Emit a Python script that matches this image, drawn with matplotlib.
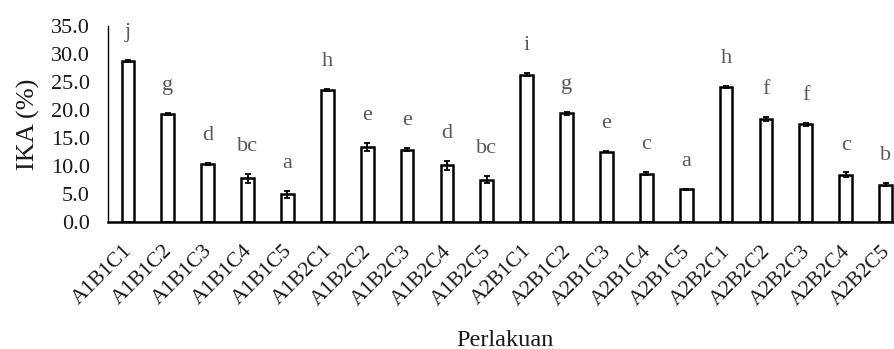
import numpy as np
import matplotlib
matplotlib.use("Agg")
import matplotlib.pyplot as plt
from matplotlib.transforms import ScaledTranslation, blended_transform_factory

plt.rcParams['font.family'] = ['Liberation Serif', 'DejaVu Serif']

perlakuan = ['A1B1C1', 'A1B1C2', 'A1B1C3', 'A1B1C4', 'A1B1C5',
             'A1B2C1', 'A1B2C2', 'A1B2C3', 'A1B2C4', 'A1B2C5',
             'A2B1C1', 'A2B1C2', 'A2B1C3', 'A2B1C4', 'A2B1C5',
             'A2B2C1', 'A2B2C2', 'A2B2C3', 'A2B2C4', 'A2B2C5']
ika = [28.8, 19.2, 10.3, 7.8, 4.9,
       23.5, 13.3, 12.9, 10.1, 7.5,
       26.3, 19.4, 12.5, 8.6, 5.8,
       24.1, 18.4, 17.4, 8.4, 6.6]
err = [0.2, 0.2, 0.2, 0.8, 0.6,
       0.2, 0.7, 0.3, 0.8, 0.6,
       0.3, 0.3, 0.1, 0.3, 0.1,
       0.1, 0.4, 0.2, 0.4, 0.3]
notasi = ['j', 'g', 'd', 'bc', 'a', 'h', 'e', 'e', 'd', 'bc',
          'i', 'g', 'e', 'c', 'a', 'h', 'f', 'f', 'c', 'b']

fig = plt.figure(figsize=(8.95, 3.49), dpi=100)
ax = fig.add_axes([0.1207, 0.3648, 0.891, 0.5607])

x = np.arange(len(perlakuan))
ax.bar(x, ika, width=0.32, color='white', edgecolor='black', linewidth=1.8,
       yerr=err, error_kw=dict(ecolor='black', elinewidth=1.3, capsize=2, capthick=1.3))

# huruf notasi di atas batang
for i in range(len(x)):
    ax.text(x[i], ika[i] + err[i] + 4.1, notasi[i], ha='center', va='baseline',
            fontsize=16, color='#595959')

ax.set_xlim(-0.5, len(x) - 0.5)
ax.set_ylim(0, 35)
ax.set_yticks(np.arange(0, 35.1, 5))
ax.set_yticklabels(['%.1f' % v for v in np.arange(0, 35.1, 5)], fontsize=16, color='#1a1a1a')
ax.set_xticks(x)
ax.set_xticklabels([])
ax.tick_params(axis='y', length=0, pad=13)
ax.tick_params(axis='x', length=0)

# label perlakuan miring, digeser sedikit ke kiri
trans = blended_transform_factory(ax.transData, ax.transAxes) + \
    ScaledTranslation(-5 / 100, -20 / 100, fig.dpi_scale_trans)
for i in range(len(x)):
    ax.text(x[i], 0, perlakuan[i], transform=trans, rotation=45, ha='right', va='top',
            rotation_mode='anchor', fontsize=15.5, color='#1a1a1a', clip_on=False)

for s in ['top', 'right']:
    ax.spines[s].set_visible(False)
ax.spines['left'].set_linewidth(1.0)
ax.spines['bottom'].set_linewidth(1.8)

ax.set_ylabel('IKA (%)', fontsize=19, color='#1a1a1a', labelpad=8)
fig.text(0.564, 0.01, 'Perlakuan', ha='center', va='baseline', fontsize=17.5, color='#1a1a1a')

fig.savefig('out.png', dpi=100)
